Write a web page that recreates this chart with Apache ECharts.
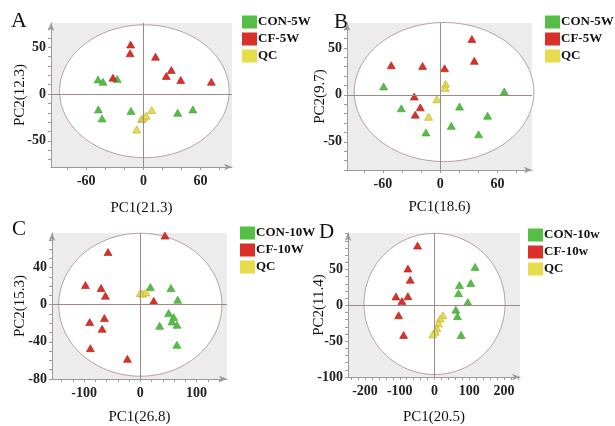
<!DOCTYPE html>
<html>
<head>
<meta charset="utf-8">
<script src="https://cdn.jsdelivr.net/npm/echarts@6/dist/echarts.min.js"></script>
<style>
  html, body { margin: 0; padding: 0; background: #fff; }
  #chart { width: 615px; height: 426px; }
</style>
</head>
<body>
<div id="chart"></div>
<script>
// panel A: 5 weeks
const conA = [[-47.6, 15.7], [-42.4, 13.2], [-27.5, 16], [-47.3, -16.4], [-43.4, -26], [-13, -18], [36, -20], [51.9, -16.4]];
const cfA = [[-13.4, 53], [-14, 43.6], [-32, 17.5], [12.7, 40], [29.3, 25.7], [24, 19.3], [39.2, 15], [71.3, 13.2]];
const qcA = [[-7, -37.9], [-2.1, -26.8], [0, -25.4], [2.8, -23.2], [8.8, -17.1]];
// panel B: 5 weeks
const conB = [[-59.3, 9], [-40.8, -14.3], [-15, -40], [11.5, -33], [20.2, -12.5], [49.5, -22.2], [40.1, -42], [67, 3.6]];
const cfB = [[-51.3, 31.5], [-18.5, 30.8], [4.5, 28.3], [33.1, 59.5], [35.6, 36.2], [-27.2, -1.8], [-20.9, -13.3], [-26.2, -21.1]];
const qcB = [[-3.5, -4.7], [5.6, 11.8], [5.2, 7.5], [-12.2, -23.3]];
// panel C: 10 weeks
const conC = [[17.8, 19], [54.4, 18], [66.3, 5.4], [50.3, -9], [59.2, -13.3], [56.2, -18], [65, -21.6], [34.3, -22.7], [65, -43.2]];
const cfC = [[43.8, 74.5], [-57.4, 56.8], [-97.6, 21.2], [-69.8, 18], [-62.1, 9.7], [-63.9, -14.4], [-90, -18.7], [-68, -25.9], [-88.8, -46.8], [-23, -58.3], [23.7, 4.3]];
const qcC = [[0, 12.6], [4.1, 11.9], [10, 13.3]];
// panel D: 10 weeks
const conD = [[116.7, 53.7], [104.3, 31.2], [71.8, 28.4], [69, 17], [95.7, 4.6], [61.2, -6], [66, -15.1], [76.6, -41.3]];
const cfD = [[-48.8, 83.5], [-76.6, 51.4], [-69.9, 35.8], [-111, 12.4], [-93.8, 6], [-76.6, 12.8], [-103.3, -13.8], [-89, -41.3]];
const qcD = [[24, -13.8], [16.3, -18.3], [11.5, -25.2], [6.7, -32], [1.9, -36.7], [-4.8, -40.4]];

// confidence ellipses [cx, cy, rx, ry]
const ellA = [1, 3, 89, 71];
const ellB = [4, 3, 94, 74];
const ellC = [0, 0, 145, 77];
const ellD = [0, 2, 203, 98.5];

const legendA = ['CON-5W', 'CF-5W', 'QC'];
const legendB = ['CON-5W', 'CF-5W', 'QC'];
const legendC = ['CON-10W', 'CF-10W', 'QC'];
const legendD = ['CON-10w', 'CF-10w', 'QC'];

const xLabelsA = [-60, 0, 60];
const yLabelsA = [-50, 0, 50];
const xLabelsB = [-60, 0, 60];
const yLabelsB = [-50, 0, 50];
const xLabelsC = [-100, 0, 100];
const yLabelsC = [-80, -40, 0, 40];
const xLabelsD = [-200, -100, 0, 100, 200];
const yLabelsD = [-100, -50, 0, 50];

const xNames = ['PC1(21.3)', 'PC1(18.6)', 'PC1(26.8)', 'PC1(20.5)'];
const yNames = ['PC2(12.3)', 'PC2(9.7)', 'PC2(15.3)', 'PC2(11.4)'];

const font = 'Liberation Serif';
const colors = ['#55bf45', '#d9302a', '#e6dc4c'];
const borders = ['#3f9a33', '#a82018', '#b5a92e'];

function ticks(min, max, step) {
  const out = [];
  for (let v = Math.ceil(min / step) * step; v <= max; v += step) out.push(v);
  return out;
}

function xAxis(i, min, max, labels, step, gap) {
  return {
    type: 'value', gridIndex: i, min: min, max: max,
    name: xNames[i], nameLocation: 'middle', nameGap: gap, nameMoveOverlap: false,
    nameTextStyle: { fontFamily: font, fontSize: 15, color: '#111' },
    axisLine: { show: true, onZero: false, symbol: ['none', 'arrow'], symbolSize: [5, 8], lineStyle: { color: '#9a9a9a', width: 1 } },
    axisTick: { show: true, length: 3, customValues: ticks(min, max, step), lineStyle: { color: '#9a9a9a' } },
    axisLabel: { customValues: labels, fontFamily: font, fontSize: 14, fontWeight: 'bold', color: '#222', margin: 7 },
    splitLine: { show: false }
  };
}

function yAxis(i, min, max, labels, step, gap) {
  return {
    type: 'value', gridIndex: i, min: min, max: max,
    name: yNames[i], nameLocation: 'middle', nameGap: gap, nameMoveOverlap: false,
    nameTextStyle: { fontFamily: font, fontSize: 15, color: '#111' },
    axisLine: { show: true, onZero: false, symbol: ['none', 'arrow'], symbolSize: [5, 8], lineStyle: { color: '#9a9a9a', width: 1 } },
    axisTick: { show: true, length: 3, customValues: ticks(min, max, step), lineStyle: { color: '#9a9a9a' } },
    axisLabel: { customValues: labels, fontFamily: font, fontSize: 14, fontWeight: 'bold', color: '#222', margin: 5 },
    splitLine: { show: false }
  };
}

function ellipse(i, e) {
  return {
    type: 'custom', xAxisIndex: i, yAxisIndex: i, data: [e], silent: true, z: 1,
    encode: { x: 0, y: 1 },
    renderItem: function (params, api) {
      const cx = api.value(0), cy = api.value(1), rx = api.value(2), ry = api.value(3);
      const pts = [];
      for (let k = 0; k <= 160; k++) {
        const t = k / 160 * Math.PI * 2;
        pts.push(api.coord([cx + rx * Math.cos(t), cy + ry * Math.sin(t)]));
      }
      return { type: 'polygon', shape: { points: pts }, style: { fill: '#fff', stroke: '#bb9e9e', lineWidth: 1 } };
    },
    markLine: {
      silent: true, symbol: 'none', label: { show: false },
      lineStyle: { color: '#9c8a8a', width: 1, type: 'solid' },
      data: [{ xAxis: 0 }, { yAxis: 0 }]
    }
  };
}

function scatter(i, name, data, c) {
  return {
    type: 'scatter', name: name, xAxisIndex: i, yAxisIndex: i, data: data, z: 3,
    symbol: 'triangle', symbolSize: [8, 7],
    itemStyle: { color: colors[c], borderColor: borders[c], borderWidth: 0.6, opacity: 1 }
  };
}

function legend(left, top, names) {
  return {
    left: left, top: top, orient: 'vertical', data: names, icon: 'rect', padding: 0,
    itemWidth: 15, itemHeight: 13, itemGap: 3, selectedMode: false,
    itemStyle: { borderWidth: 0 },
    textStyle: { fontFamily: font, fontSize: 13, fontWeight: 'bold', color: '#111', lineHeight: 14, padding: [0, 0, 0, -4] }
  };
}

const grids = [
  { left: 51, top: 23, width: 181, height: 144 },
  { left: 347, top: 23, width: 185, height: 147 },
  { left: 52, top: 233, width: 175, height: 146 },
  { left: 348, top: 233, width: 172, height: 146 }
].map(g => Object.assign({ show: true, backgroundColor: '#ececec', borderWidth: 0 }, g));

const chart = echarts.init(document.getElementById('chart'), null, { renderer: 'canvas' });
chart.setOption({
  animation: false,
  backgroundColor: '#fff',
  grid: grids,
  xAxis: [
    xAxis(0, -97, 93, xLabelsA, 20, 34),
    xAxis(1, -97.6, 96, xLabelsB, 20, 30),
    xAxis(2, -157, 154, xLabelsC, 20, 31),
    xAxis(3, -249, 246, xLabelsD, 20, 33)
  ],
  yAxis: [
    yAxis(0, -78, 76, yLabelsA, 10, 23),
    yAxis(1, -80, 76.5, yLabelsB, 10, 19),
    yAxis(2, -80, 77.3, yLabelsC, 10, 24),
    yAxis(3, -100, 101, yLabelsD, 10, 21)
  ],
  legend: [
    legend(242, 15, legendA),
    legend(545, 15, legendB),
    legend(240, 226, legendC),
    legend(528, 228, legendD)
  ],
  graphic: [
    { type: 'text', left: 11, top: 10, style: { text: 'A', font: '22px Liberation Serif', fill: '#111' } },
    { type: 'text', left: 334, top: 12, style: { text: 'B', font: '21px Liberation Serif', fill: '#111' } },
    { type: 'text', left: 12, top: 219, style: { text: 'C', font: '21px Liberation Serif', fill: '#111' } },
    { type: 'text', left: 319, top: 222, style: { text: 'D', font: '21px Liberation Serif', fill: '#111' } }
  ],
  series: [
    ellipse(0, ellA), scatter(0, legendA[0], conA, 0), scatter(0, legendA[1], cfA, 1), scatter(0, legendA[2], qcA, 2),
    ellipse(1, ellB), scatter(1, legendB[0], conB, 0), scatter(1, legendB[1], cfB, 1), scatter(1, legendB[2], qcB, 2),
    ellipse(2, ellC), scatter(2, legendC[0], conC, 0), scatter(2, legendC[1], cfC, 1), scatter(2, legendC[2], qcC, 2),
    ellipse(3, ellD), scatter(3, legendD[0], conD, 0), scatter(3, legendD[1], cfD, 1), scatter(3, legendD[2], qcD, 2)
  ]
});
</script>
</body>
</html>
